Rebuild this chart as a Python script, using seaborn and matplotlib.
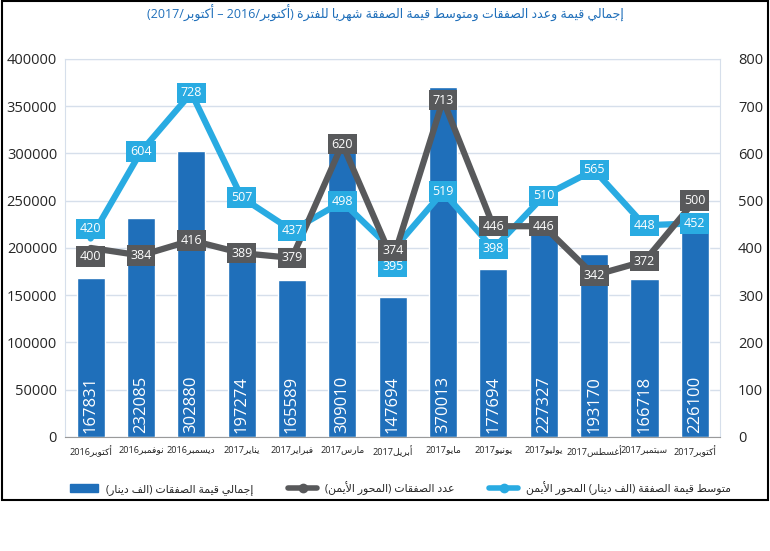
import re
import numpy as np
import pandas as pd
import seaborn as sns
import matplotlib.pyplot as plt
from matplotlib.patches import Patch, Rectangle
from matplotlib.lines import Line2D

# Arabic presentation forms (base code, number of forms)
AR = {'ء': (0xFE80, 1), 'آ': (0xFE81, 2), 'أ': (0xFE83, 2), 'ؤ': (0xFE85, 2), 'إ': (0xFE87, 2),
      'ئ': (0xFE89, 4), 'ا': (0xFE8D, 2), 'ب': (0xFE8F, 4), 'ة': (0xFE93, 2), 'ت': (0xFE95, 4),
      'ث': (0xFE99, 4), 'ج': (0xFE9D, 4), 'ح': (0xFEA1, 4), 'خ': (0xFEA5, 4), 'د': (0xFEA9, 2),
      'ذ': (0xFEAB, 2), 'ر': (0xFEAD, 2), 'ز': (0xFEAF, 2), 'س': (0xFEB1, 4), 'ش': (0xFEB5, 4),
      'ص': (0xFEB9, 4), 'ض': (0xFEBD, 4), 'ط': (0xFEC1, 4), 'ظ': (0xFEC5, 4), 'ع': (0xFEC9, 4),
      'غ': (0xFECD, 4), 'ف': (0xFED1, 4), 'ق': (0xFED5, 4), 'ك': (0xFED9, 4), 'ل': (0xFEDD, 4),
      'م': (0xFEE1, 4), 'ن': (0xFEE5, 4), 'ه': (0xFEE9, 4), 'و': (0xFEED, 2), 'ى': (0xFEEF, 2),
      'ي': (0xFEF1, 4)}
LAM_ALEF = {'آ': 0xFEF5, 'أ': 0xFEF7, 'إ': 0xFEF9, 'ا': 0xFEFB}


def shape(word):
    seq = []
    i = 0
    while i < len(word):
        c = word[i]
        if c == 'ل' and i + 1 < len(word) and word[i + 1] in LAM_ALEF:
            seq.append(('LA', word[i + 1]))
            i += 2
        else:
            seq.append(('C', c))
            i += 1

    def joins_next(it):
        return it[0] == 'C' and it[1] in AR and AR[it[1]][1] == 4

    def joins_prev(it):
        return it[0] == 'LA' or (it[1] in AR and AR[it[1]][1] >= 2)

    out = []
    for k, it in enumerate(seq):
        p = k > 0 and joins_next(seq[k - 1]) and joins_prev(it)
        q = k + 1 < len(seq) and joins_next(it) and joins_prev(seq[k + 1])
        kind, c = it
        if kind == 'LA':
            out.append(chr(LAM_ALEF[c] + (1 if p else 0)))
        elif c in AR:
            base, nf = AR[c]
            if nf == 1:
                out.append(chr(base))
            elif nf == 2:
                out.append(chr(base + (1 if p else 0)))
            else:
                out.append(chr(base + (3 if p and q else 1 if p else 2 if q else 0)))
        else:
            out.append(c)
    return ''.join(out)


def ar(text):
    s = shape(text)
    runs = re.findall(r'[0-9]+|[^0-9]+', s)
    mirror = str.maketrans('()', ')(')
    return ''.join(r if r.isdigit() else r[::-1].translate(mirror) for r in reversed(runs))


months = ["أكتوبر2016", "نوفمبر2016", "ديسمبر2016", "يناير2017", "فبراير2017", "مارس2017",
          "أبريل2017", "مايو2017", "يونيو2017", "يوليو2017", "أغسطس2017", "سبتمبر2017", "أكتوبر2017"]
total_value = [167831, 232085, 302880, 197274, 165589, 309010, 147694,
               370013, 177694, 227327, 193170, 166718, 226100]
deal_count = [400, 384, 416, 389, 379, 620, 374, 713, 446, 446, 342, 372, 500]
avg_value = [420, 604, 728, 507, 437, 498, 395, 519, 398, 510, 565, 448, 452]

title = "إجمالي قيمة وعدد الصفقات ومتوسط قيمة الصفقة شهريا للفترة (أكتوبر/2016 – أكتوبر/2017)"
leg_bar = "إجمالي قيمة الصفقات (الف دينار)"
leg_count = "عدد الصفقات (المحور الأيمن)"
leg_avg = "متوسط قيمة الصفقة (الف دينار) المحور الأيمن"

BLUE = "#1f6fba"
LIGHT = "#29abe2"
GRAY = "#58595b"

# label nudges (points) where boxes would collide
avg_shift = {0: 7, 6: -12}
count_shift = {0: -6, 6: 7}

sns.set_style("white")
plt.rcParams['font.family'] = ['Open Sans', 'DejaVu Sans']

labels = [ar(m) for m in months]
df = pd.DataFrame({"month": labels, "total": total_value, "count": deal_count, "avg": avg_value})

fig = plt.figure(figsize=(7.7, 5.51), dpi=100)
ax = fig.add_axes([0.085, 0.207, 0.85, 0.686])

sns.barplot(data=df, x="month", y="total", order=labels, color=BLUE, width=0.56,
            saturation=1, ax=ax, zorder=2)
ax.set_ylim(0, 400000)
ax.set_yticks(np.arange(0, 400001, 50000))
ax.grid(axis="y", color="#d6dfeb", lw=1, zorder=0)
ax.set_xlabel("")
ax.set_ylabel("")
ax.tick_params(axis="y", labelsize=10.5, length=0, pad=6)
ax.tick_params(axis="x", labelsize=6.6, length=0, pad=6)
for s in ["top", "right", "left"]:
    ax.spines[s].set_color("#d6dfeb")
ax.spines["bottom"].set_color("#9a9a9a")

for i, v in enumerate(total_value):
    ax.text(i, 4000, str(v), rotation=90, ha="center", va="bottom", color="white",
            fontsize=12, zorder=3)

ax2 = ax.twinx()
sns.pointplot(data=df, x="month", y="avg", order=labels, color=LIGHT, markers="",
              linewidth=4.5, errorbar=None, ax=ax2)
sns.pointplot(data=df, x="month", y="count", order=labels, color=GRAY, markers="",
              linewidth=4.5, errorbar=None, ax=ax2)
ax2.set_ylim(0, 800)
ax2.set_yticks(np.arange(0, 801, 100))
ax2.set_ylabel("")
ax2.set_xlabel("")
ax2.tick_params(axis="y", labelsize=10.5, length=0, pad=13)
ax2.grid(False)
for s in ax2.spines.values():
    s.set_visible(False)
ax2.set_xticks(range(len(labels)))
ax2.set_xticklabels(labels)
ax2.set_xlim(-0.5, len(labels) - 0.5)

for i, v in enumerate(avg_value):
    ax2.annotate(str(v), (i, v), xytext=(0, avg_shift.get(i, 0)), textcoords="offset points",
                 ha="center", va="center", color="white", fontsize=9, zorder=5,
                 bbox=dict(boxstyle="square,pad=0.3", fc=LIGHT, ec="none"))
for i, v in enumerate(deal_count):
    ax2.annotate(str(v), (i, v), xytext=(0, count_shift.get(i, 0)), textcoords="offset points",
                 ha="center", va="center", color="white", fontsize=9, zorder=6,
                 bbox=dict(boxstyle="square,pad=0.3", fc=GRAY, ec="none"))

fig.text(0.5, 0.975, ar(title), ha="center", va="center", color=BLUE, fontsize=9)

handles = [Patch(color=BLUE),
           Line2D([], [], color=GRAY, lw=4, marker="o", markersize=6),
           Line2D([], [], color=LIGHT, lw=4, marker="o", markersize=6)]
fig.legend(handles, [ar(leg_bar), ar(leg_count), ar(leg_avg)], loc="center",
           bbox_to_anchor=(0.52, 0.115), ncol=3, frameon=False, fontsize=7.8,
           handlelength=2.6, columnspacing=3.2)

fig.add_artist(Rectangle((0.002, 0.0926), 0.995, 0.905, fill=False, lw=1.5,
                         ec="black", transform=fig.transFigure))

plt.savefig("out.png", dpi=100)
